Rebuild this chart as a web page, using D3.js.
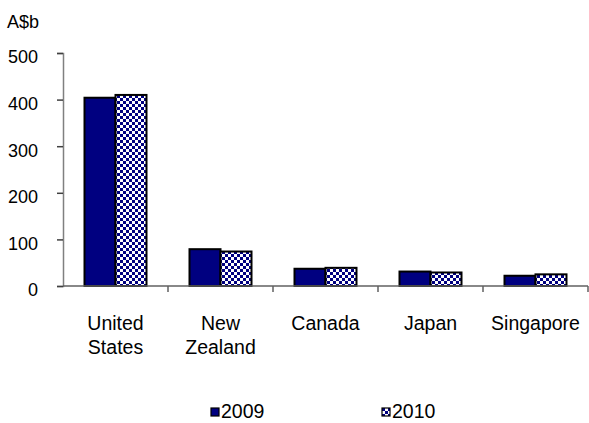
<!DOCTYPE html>
<html>
<head>
<meta charset="utf-8">
<script src="https://d3js.org/d3.v7.min.js"></script>
<style>
  body { margin: 0; background: #fff; }
  text { font-family: "Liberation Sans", Arial, sans-serif; fill: #000; }
</style>
</head>
<body>
<div id="Chart"></div>
<script>

// chart data
var categories = [["United", "States"], ["New", "Zealand"], ["Canada"], ["Japan"], ["Singapore"]];
var series = ["2009", "2010"];
var values2009 = [404, 79, 37, 31, 22];
var values2010 = [410, 74, 39, 29, 25];
var yTicks = [0, 100, 200, 300, 400, 500];

var margin = {top: 53, right: 1, bottom: 137, left: 63},
    width = 589 - margin.left - margin.right,
    height = 423 - margin.top - margin.bottom;

var svg = d3.select("#Chart")
  .append("svg")
    .attr("width", 589)
    .attr("height", 423);

// checkerboard fill for the 2010 series
var pat = svg.append("defs").append("pattern")
    .attr("id", "checker")
    .attr("patternUnits", "userSpaceOnUse")
    .attr("width", 6)
    .attr("height", 6);
pat.append("rect").attr("width", 6).attr("height", 6).attr("fill", "#fff");
pat.append("rect").attr("width", 3).attr("height", 3).attr("fill", "#000080");
pat.append("rect").attr("x", 3).attr("y", 3).attr("width", 3).attr("height", 3).attr("fill", "#000080");

var fills = {"2009": "#000080", "2010": "url(#checker)"};

var g = svg.append("g")
    .attr("transform", "translate(" + margin.left + "," + margin.top + ")");

var keys = categories.map(function(c) { return c.join(" "); });

var x = d3.scaleBand()
    .domain(keys)
    .range([0, width]);

var x1 = d3.scaleBand()
    .domain(series)
    .range([21.5, x.bandwidth() - 21.5]);

var y = d3.scaleLinear()
    .domain([0, 500])
    .range([height, 0]);

// y axis
var yAxis = g.append("g")
    .call(d3.axisLeft(y).tickValues(yTicks).tickSize(6).tickPadding(19));
yAxis.select(".domain").attr("stroke", "#808080").attr("stroke-width", 1.5);
yAxis.selectAll(".tick line").attr("stroke", "#404040").attr("stroke-width", 1.5);
yAxis.selectAll(".tick text")
    .attr("font-size", 18)
    .attr("dy", "0.55em")
    .style("font-family", "Liberation Sans, Arial, sans-serif")
    .attr("fill", "#000");

// unit label
svg.append("text")
    .attr("x", 7)
    .attr("y", 28)
    .attr("font-size", 18)
    .text("A$b");

// bars
var rows = keys.map(function(k, i) {
  return {key: k, vals: [{s: "2009", v: values2009[i]}, {s: "2010", v: values2010[i]}]};
});

g.append("g")
  .selectAll("g")
  .data(rows)
  .enter().append("g")
    .attr("transform", function(d) { return "translate(" + x(d.key) + ",0)"; })
  .selectAll("rect")
  .data(function(d) { return d.vals; })
  .enter().append("rect")
    .attr("x", function(d) { return x1(d.s); })
    .attr("y", function(d) { return y(d.v); })
    .attr("width", x1.bandwidth())
    .attr("height", function(d) { return height - y(d.v); })
    .attr("fill", function(d) { return fills[d.s]; })
    .attr("stroke", "#000")
    .attr("stroke-width", 2);

// x axis: tick marks sit between the categories
var xAxis = g.append("g")
    .attr("transform", "translate(0," + height + ")");
xAxis.append("line")
    .attr("x1", 0).attr("x2", width)
    .attr("stroke", "#606060").attr("stroke-width", 1.5);
xAxis.selectAll(".sep")
  .data(keys)
  .enter().append("line")
    .attr("x1", function(d) { return x(d) + x.bandwidth(); })
    .attr("x2", function(d) { return x(d) + x.bandwidth(); })
    .attr("y1", 0).attr("y2", 6)
    .attr("stroke", "#606060").attr("stroke-width", 1.5);

xAxis.selectAll(".lab")
  .data(categories)
  .enter().append("text")
    .attr("text-anchor", "middle")
    .attr("font-size", 19.5)
    .attr("transform", function(d, i) { return "translate(" + (x(keys[i]) + x.bandwidth() / 2) + ",44)"; })
  .selectAll("tspan")
  .data(function(d) { return d; })
  .enter().append("tspan")
    .attr("x", 0)
    .attr("dy", function(d, i) { return i === 0 ? 0 : 23.5; })
    .text(function(d) { return d; });

// legend
var legendX = [211, 382];
var legend = svg.append("g").selectAll("g")
  .data(series)
  .enter().append("g")
    .attr("transform", function(d, i) { return "translate(" + legendX[i] + ",408)"; });
legend.append("rect")
    .attr("width", 8).attr("height", 8)
    .attr("fill", function(d) { return fills[d]; })
    .attr("stroke", "#000").attr("stroke-width", 1.2);
legend.append("text")
    .attr("x", 10)
    .attr("y", 9.5)
    .attr("font-size", 19.5)
    .text(function(d) { return d; });

</script>
</body>
</html>
